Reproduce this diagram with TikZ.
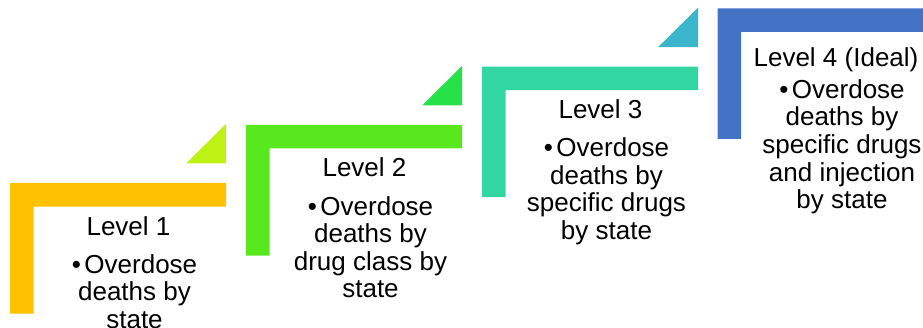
\documentclass[tikz,border=0pt]{standalone}
\usepackage{xcolor}
\usepackage{tikz}
\usepackage{fontspec}
\setmainfont{Liberation Sans}

\definecolor{barA}{RGB}{255,192,0}
\definecolor{triA}{RGB}{190,242,20}
\definecolor{barB}{RGB}{88,232,30}
\definecolor{triB}{RGB}{37,226,72}
\definecolor{barC}{RGB}{50,214,160}
\definecolor{triC}{RGB}{58,181,203}
\definecolor{barD}{RGB}{68,114,196}

\newcommand{\bul}{\textbullet\hspace{2.5pt}}

\tikzset{
  levelhead/.style={anchor=base,inner sep=0pt,font=\fontsize{18.5}{19.6}\selectfont},
  levelbody/.style={anchor=north,inner sep=0pt,align=center,font=\fontsize{18.5}{19.6}\selectfont}
}

\begin{document}
\begin{tikzpicture}[x=0.025cm,y=-0.025cm]
\useasboundingbox (0,0) rectangle (923,328);
\foreach \i/\sx/\sy/\bar/\tri/\hy/\head/\body in {
    1/10/183/barA/triA/53/{Level 1}/{\bul Overdose\\deaths by\\state},
    2/246/125/barB/triB/52/{Level 2}/{\bul Overdose\\deaths by\\drug class by\\state},
    3/482/66.7/barC/triC/52/{Level 3}/{\bul Overdose\\deaths by\\specific drugs\\by state},
    4/717.5/8.3/barD/white/58/{Level 4 (Ideal)}/{\bul Overdose\\deaths by\\specific drugs\\and injection\\by state}} {
    % step corner
    \fill[\bar] (\sx,\sy) -- ++(216,0) -- ++(0,23.5) -- ++(-192.5,0) -- ++(0,107) -- ++(-23.5,0) -- cycle;
    % small triangle
    \fill[\tri] (\sx+176,\sy-19.5) -- (\sx+216,\sy-19.5) -- (\sx+216,\sy-59) -- cycle;
    \node[levelhead] (lvl\i) at (\sx+118.5,\sy+\hy) {\head};
    \node[levelbody] (txt\i) at (\sx+124.5,\sy+71) {\body};
}
\end{tikzpicture}
\end{document}
